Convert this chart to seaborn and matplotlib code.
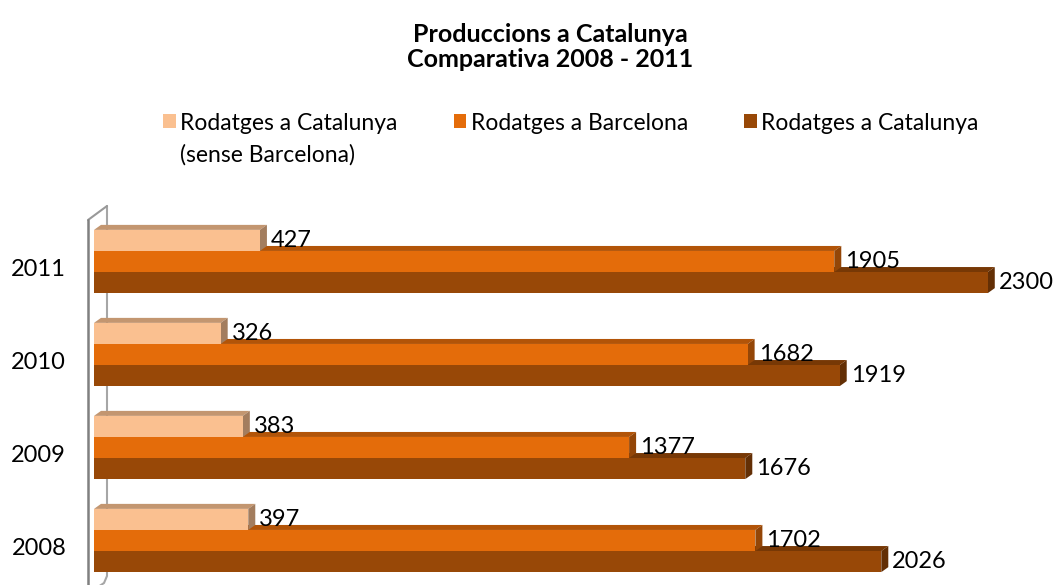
import numpy as np
import pandas as pd
import matplotlib
matplotlib.use("Agg")
import matplotlib.pyplot as plt
import matplotlib.colors as mcolors
import matplotlib.transforms as mtransforms
from matplotlib.patches import Polygon, Patch
from matplotlib.lines import Line2D
import seaborn as sns

# data
years = ["2011", "2010", "2009", "2008"]
series = ["Rodatges a Catalunya (sense Barcelona)", "Rodatges a Barcelona", "Rodatges a Catalunya"]
sense_bcn = [427, 326, 383, 397]
barcelona = [1905, 1682, 1377, 1702]
catalunya = [2300, 1919, 1676, 2026]
colors = ["#FAC090", "#E46C0A", "#984807"]

df = pd.DataFrame({
    "year": years * 3,
    "serie": np.repeat(series, len(years)),
    "value": sense_bcn + barcelona + catalunya,
})

sns.set_theme(style="white")
plt.rcParams["font.family"] = ["Lato", "DejaVu Sans"]

W, H = 1055, 585
FS = 17
FS_LEG = 16.5
XMAX = 2473
AX_TOP, AX_BOT = 215, 587
fig = plt.figure(figsize=(W / 100, H / 100), dpi=100)
ax = fig.add_axes([94 / W, (H - AX_BOT) / H, (W - 94) / W, (AX_BOT - AX_TOP) / H])

sns.barplot(data=df, x="value", y="year", hue="serie", order=years,
            hue_order=series, palette=colors, orient="h", width=0.68,
            saturation=1, ax=ax, legend=False)
ax.set_xlim(0, XMAX)
ax.set_ylim(len(years) - 0.5, -0.5)

# fake 3D depth (Excel style)
sx = (W - 94) / XMAX
sy = (AX_BOT - AX_TOP) / len(years)
dx = 7 / sx
dy = 5 / sy


def shade(c, f):
    r, g, b = mcolors.to_rgb(c)
    return (r * f, g * f, b * f)


for i, cont in enumerate(ax.containers):
    z = 3 - i
    col = colors[i]
    for rect in cont:
        rect.set_zorder(z)
        rect.set_edgecolor("none")
        x0, y0 = rect.get_x(), rect.get_y()
        w, h = rect.get_width(), rect.get_height()
        y1 = y0 + h
        top = Polygon([(x0, y0), (x0 + w, y0), (x0 + w + dx, y0 - dy), (x0 + dx, y0 - dy)],
                      closed=True, facecolor=shade(col, 0.78), edgecolor="none", zorder=z - 0.5)
        side = Polygon([(x0 + w, y0), (x0 + w + dx, y0 - dy), (x0 + w + dx, y1 - dy), (x0 + w, y1)],
                       closed=True, facecolor=shade(col, 0.65), edgecolor="none", zorder=z - 0.4)
        ax.add_patch(top)
        ax.add_patch(side)
        ax.annotate(f"{int(round(w))}", xy=(x0 + w + dx, y0 + h / 2), xytext=(4, 0),
                    textcoords="offset pixels", ha="left", va="center",
                    fontsize=FS, color="black", zorder=6)

ax.set_xticks([])
ax.set_xlabel("")
ax.set_ylabel("")
ax.tick_params(axis="y", length=0, pad=20, labelsize=FS, labelcolor="black")
shift = mtransforms.ScaledTranslation(0, -6 / 100, fig.dpi_scale_trans)
for lbl in ax.get_yticklabels():
    lbl.set_transform(lbl.get_transform() + shift)
for s in ax.spines.values():
    s.set_visible(False)


# wall lines
def fp(x, y):
    return x / W, 1 - y / H


def wline(pts, color, lw, z):
    xs, ys = zip(*[fp(x, y) for x, y in pts])
    ax.add_line(Line2D(xs, ys, transform=fig.transFigure, color=color, lw=lw,
                       clip_on=False, zorder=z))


wline([(107, 206), (107, 576), (104, 583), (98, 587)], "#A6A6A6", 1.5, 0.2)
wline([(88, 220), (107, 206)], "#999999", 1.5, 0.3)
wline([(88, 220), (88, 600)], "#808080", 1.8, 0.3)

# title
fig.text(550 / W, 1 - 47 / H, "Produccions a Catalunya\nComparativa 2008 - 2011",
         ha="center", va="center", fontsize=18, fontweight="bold",
         linespacing=1.1, color="black")

# legend
handles = [Patch(facecolor=c, edgecolor="none") for c in colors]
leg = fig.legend(handles, ["Rodatges a Catalunya", "Rodatges a Barcelona", "Rodatges a Catalunya"],
                 ncol=3, loc="center left", bbox_to_anchor=(163 / W, 1 - 123 / H),
                 frameon=False, fontsize=FS_LEG, handlelength=0.55, handleheight=0.55,
                 handletextpad=0.2, columnspacing=2.45, borderpad=0, borderaxespad=0)
for t in leg.get_texts():
    t.set_color("black")

fig.canvas.draw()
bb = leg.get_texts()[0].get_window_extent(fig.canvas.get_renderer())
fig.text(bb.x0 / W, ((bb.y0 + bb.y1) / 2 - 32) / H, "(sense Barcelona)",
         ha="left", va="center", fontsize=FS_LEG, color="black")

fig.savefig("out.png", dpi=100)
